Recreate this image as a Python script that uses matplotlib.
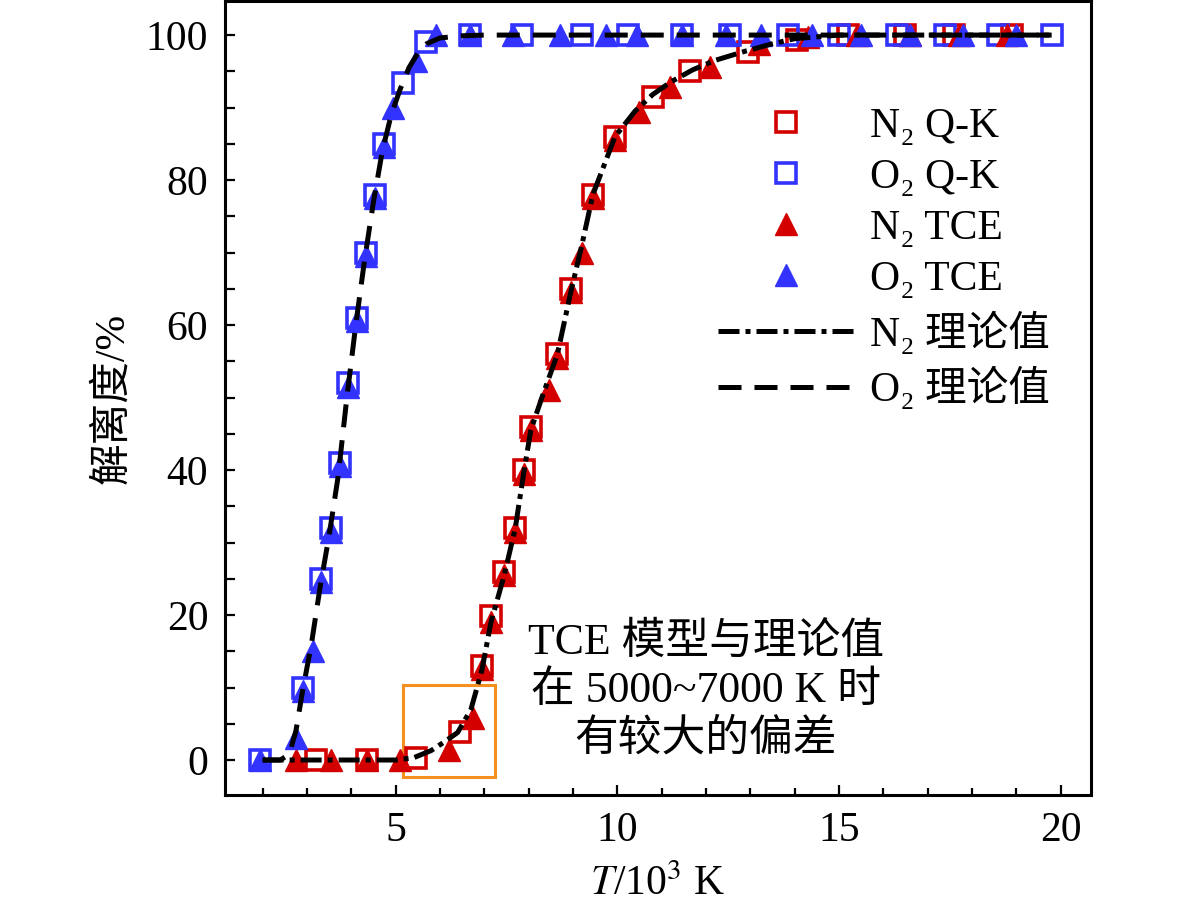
import matplotlib
matplotlib.use('Agg')
import matplotlib.pyplot as plt
from matplotlib.patches import Rectangle
from matplotlib.ticker import MultipleLocator

plt.rcParams['font.family'] = ['Liberation Serif', 'DejaVu Serif', 'Noto Sans CJK SC']
plt.rcParams['mathtext.fontset'] = 'stix'

# N2, Q-K model (T in 10^3 K, degree of dissociation in %)
n2_qk_T = [3.2, 4.35, 5.45, 6.45, 6.95, 7.15, 7.45, 7.7, 7.9, 8.05, 8.65, 8.95,
           9.45, 9.95, 10.8, 11.65, 12.95, 14.05, 15.2, 16.5, 17.6, 18.9]
n2_qk_y = [0, 0, 0.3, 3.9, 13, 19.8, 26, 32, 40, 46, 56, 65,
           78, 86, 91.4, 95, 97.6, 99.3, 100, 100, 100, 100]

# O2, Q-K model
o2_qk_T = [1.95, 2.9, 3.32, 3.54, 3.75, 3.93, 4.12, 4.33, 4.54, 4.74, 5.17, 5.69,
           6.68, 7.85, 9.2, 10.25, 11.45, 12.55, 13.85, 15.0, 16.3, 17.4, 18.6, 19.8]
o2_qk_y = [0, 10, 25, 32, 41, 52, 61, 70, 78, 85, 93.4, 99,
           100, 100, 100, 100, 100, 100, 100, 100, 100, 100, 100, 100]

# N2, TCE model
n2_tce_T = [2.75, 3.55, 4.35, 5.1, 6.2, 6.75, 6.95, 7.15, 7.45, 7.7, 7.9, 8.05, 8.45,
            8.65, 8.95, 9.2, 9.45, 9.95, 10.5, 11.2, 12.1, 13.2, 14.3, 15.4, 16.6, 17.7, 18.8]
n2_tce_y = [0, 0, 0, 0, 1.4, 5.8, 12.5, 19, 25.5, 31.5, 39.5, 45.5, 51,
            55.5, 64.5, 70, 77.5, 85.5, 89.4, 92.8, 95.6, 98.8, 99.8, 100, 100, 100, 100]

# O2, TCE model
o2_tce_T = [1.95, 2.75, 2.9, 3.14, 3.32, 3.54, 3.75, 3.93, 4.12, 4.33, 4.54, 4.74, 4.94,
            5.46, 5.9, 6.68, 7.65, 8.7, 9.75, 10.45, 11.45, 12.45, 13.25, 14.4, 15.5,
            16.6, 17.8, 19.0]
o2_tce_y = [0, 3, 9.5, 15, 24.5, 31.5, 40.5, 51.5, 60.5, 69.5, 77.5, 84.5, 90,
            96.4, 100, 100, 100, 100, 100, 100, 100, 100, 100, 100, 100,
            100, 100, 100]

# theoretical values
n2_th_T = [2.0, 4.0, 5.0, 5.4, 5.8, 6.1, 6.4, 6.7, 6.95, 7.15, 7.45, 7.7, 7.9, 8.05, 8.3,
           8.65, 8.95, 9.2, 9.45, 9.95, 10.4, 10.8, 11.2, 11.7, 12.2, 12.9, 13.5, 14.0,
           15.0, 19.8]
n2_th_y = [0, 0, 0, 0.3, 1.3, 2.5, 3.8, 7, 12.5, 19, 25.5, 32, 40, 45.5, 50,
           56, 64.5, 71, 78, 86, 89.5, 91.8, 93.5, 95.2, 96.5, 97.8, 98.8, 99.5,
           100, 100]
o2_th_T = [2.0, 2.4, 2.6, 2.75, 2.9, 3.1, 3.3, 3.5, 3.7, 3.9, 4.1, 4.3, 4.5, 4.7, 4.9,
           5.1, 5.3, 5.5, 5.7, 6.0, 6.5, 7.0, 8.0, 10.0, 14.0, 19.8]
o2_th_y = [0, 0, 0.8, 4, 9.5, 16, 24, 31, 39, 50, 60, 69, 77, 84, 89,
           92.5, 95.5, 97.5, 98.8, 99.6, 99.9, 100, 100, 100, 100, 100]

red = '#d40000'
blue = '#3333ff'

fig = plt.figure(figsize=(11.81, 9.11), dpi=100)
ax = fig.add_axes([0.1905, 0.1273, 0.733, 0.8716])

ax.plot(n2_qk_T, n2_qk_y, ls='none', marker='s', ms=14, mfc='none', mec=red, mew=2.6,
        label='N₂ Q-K')
ax.plot(o2_qk_T, o2_qk_y, ls='none', marker='s', ms=14, mfc='none', mec=blue, mew=2.6,
        label='O₂ Q-K')
ax.plot(n2_tce_T, n2_tce_y, ls='none', marker='^', ms=16, color=red, mec=red,
        label='N₂ TCE')
ax.plot(o2_tce_T, o2_tce_y, ls='none', marker='^', ms=16, color=blue, mec=blue,
        label='O₂ TCE')
ax.plot(n2_th_T, n2_th_y, color='k', lw=3.6, dashes=(4.2, 1.2, 1.0, 1.2), label='N₂ 理论值')
ax.plot(o2_th_T, o2_th_y, color='k', lw=3.6, dashes=(4.6, 2.6), label='O₂ 理论值')

# highlight box for deviation region
ax.add_patch(Rectangle((5.17, -2.3), 2.08, 12.7, fill=False, ec='#f5901e', lw=2.2))
ax.text(12.0, 9.5, 'TCE 模型与理论值\n在 5000~7000 K 时\n有较大的偏差',
        ha='center', va='center', fontsize=31.5, linespacing=1.25)

ax.set_xlim(1.15, 20.68)
ax.set_ylim(-4.83, 104.7)
ax.xaxis.set_major_locator(MultipleLocator(5))
ax.xaxis.set_minor_locator(MultipleLocator(1))
ax.yaxis.set_major_locator(MultipleLocator(20))
ax.yaxis.set_minor_locator(MultipleLocator(5))
ax.tick_params(which='both', direction='in', width=1.6, labelsize=30)
ax.tick_params(axis='x', which='major', length=7, pad=12)
ax.tick_params(axis='x', which='minor', length=5)
ax.tick_params(axis='y', which='major', length=7, pad=12)
ax.tick_params(axis='y', which='minor', length=7)
for s in ax.spines.values():
    s.set_linewidth(2.2)

ax.set_xlabel('$T$/10$^3$ K', fontsize=30, labelpad=11)
ax.set_ylabel('解离度/%', fontsize=30, labelpad=10)

ax.legend(loc='upper left', bbox_to_anchor=(0.5695, 0.866), frameon=False, fontsize=30,
          handlelength=3.25, handletextpad=0.4, labelspacing=0.3,
          borderpad=0, borderaxespad=0)

fig.savefig('out.png', dpi=100)
